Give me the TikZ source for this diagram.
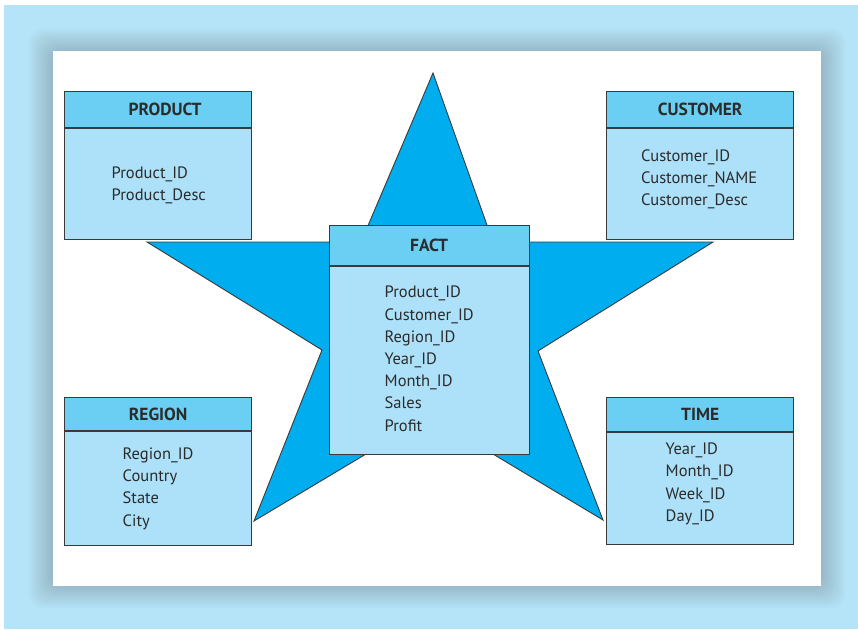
\documentclass[tikz,border=0pt]{standalone}
\usepackage{fontspec}
\setmainfont{PT Sans}
\usetikzlibrary{positioning}

\definecolor{skyback}{HTML}{B5E3F8}
\definecolor{headblue}{HTML}{6BCFF4}
\definecolor{bodyblue}{HTML}{ADE1F9}
\definecolor{starblue}{HTML}{00ADEE}
\definecolor{edgegray}{HTML}{3A3A3A}
\definecolor{textgray}{HTML}{2B2B2B}

\begin{document}
\begin{tikzpicture}[x=1pt,y=-1pt,
    head/.style={draw=edgegray,line width=1.2pt,fill=headblue,anchor=north west,
      minimum width=187pt,minimum height=36pt,inner sep=0pt,text=textgray,
      font=\bfseries\fontsize{17.5}{20}\selectfont},
    body/.style={draw=edgegray,line width=1.2pt,fill=bodyblue,anchor=north west,
      minimum width=187pt,inner sep=0pt},
    field/.style={anchor=base west,inner sep=0pt,text=textgray,
      font=\fontsize{16.5}{20}\selectfont}]

  \useasboundingbox (0,0) rectangle (858,629);
  \fill[white] (0,0) rectangle (858,629);
  \fill[skyback] (4,5) rectangle (858,629);

  % soft shadow behind the panel
  \foreach \s in {1,...,14}
    \fill[black!70,opacity=0.02,rounded corners=14pt]
      (53-26+\s*1.7,51-24+\s*1.7) rectangle (821+26-\s*1.7,586+24-\s*1.7);
  \fill[white] (53,51) rectangle (821,586);

  % the star
  \filldraw[fill=starblue,draw=edgegray,line width=0.9pt,line join=miter]
    (433,73) -- (493,242) -- (713,242) -- (538,351) -- (603,520)
    -- (429.5,416) -- (254,521) -- (322,350) -- (147,242) -- (361,242) -- cycle;

  % dimension tables
  \node[head] (product) at (64,91) {\hspace*{14pt}PRODUCT};
  \node[body,minimum height=111pt] (productbody) at (product.south west) {};
  \foreach \t [count=\i] in {Product\_ID,Product\_Desc}
    \node[field] (product\i) at (111.5,156+22*\i) {\t};

  \node[head] (customer) at (606,91) {CUSTOMER};
  \node[body,minimum height=111pt] (customerbody) at (customer.south west) {};
  \foreach \t [count=\i] in {Customer\_ID,Customer\_NAME,Customer\_Desc}
    \node[field] (customer\i) at (641,139+22.3*\i) {\t};

  \node[head,minimum height=33pt] (region) at (64,397) {REGION};
  \node[body,minimum height=114pt] (regionbody) at (region.south west) {};
  \foreach \t [count=\i] in {Region\_ID,Country,State,City}
    \node[field] (region\i) at (122.5,437+22.3*\i) {\t};

  \node[head,minimum height=34pt] (time) at (606,397) {TIME};
  \node[body,minimum height=112pt] (timebody) at (time.south west) {};
  \foreach \t [count=\i] in {Year\_ID,Month\_ID,Week\_ID,Day\_ID}
    \node[field] (time\i) at (665.5,432+22.4*\i) {\t};

  % fact table
  \node[head,minimum width=200pt,minimum height=40pt] (fact) at (328.5,225) {FACT};
  \node[body,minimum width=200pt,minimum height=188pt] (factbody) at (fact.south west) {};
  \foreach \t [count=\i] in {Product\_ID,Customer\_ID,Region\_ID,Year\_ID,Month\_ID,Sales,Profit}
    \node[field] (fact\i) at (384.5,275.6+22.2*\i) {\t};
\end{tikzpicture}
\end{document}
